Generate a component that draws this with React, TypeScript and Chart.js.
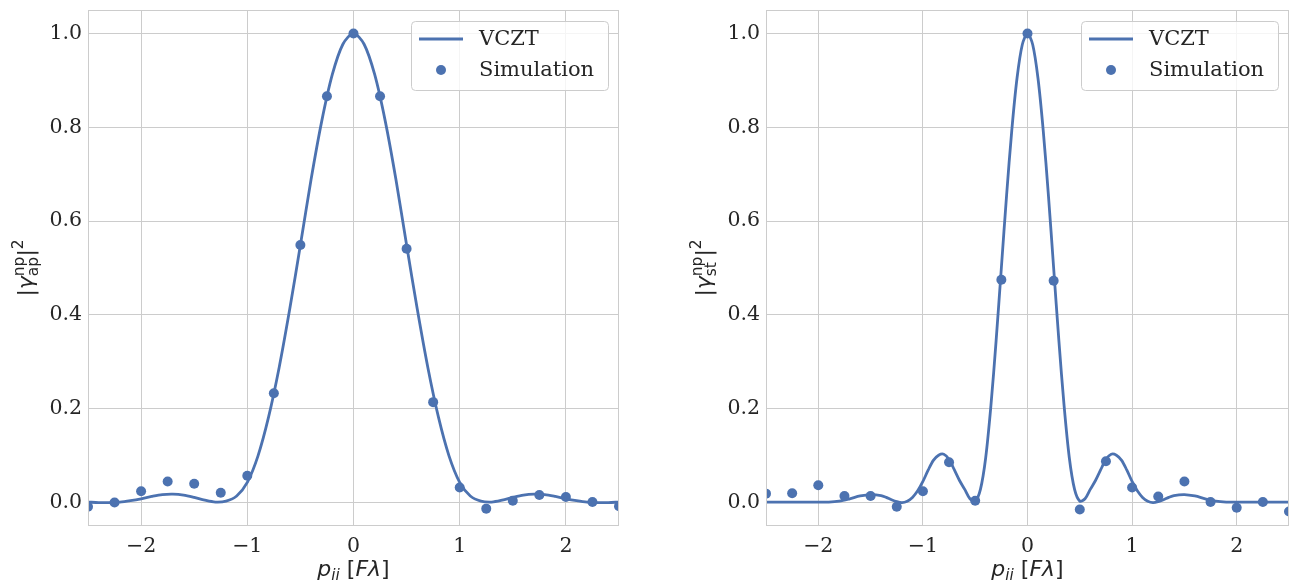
import React, { useEffect, useRef } from 'react';
import { Chart, registerables } from 'chart.js';

Chart.register(...registerables);

const BLUE = '#4c72b0';
const GRID = '#cccccc';
const TEXT = '#262626';

// Simulated samples (shared x positions for both panels)
const simX = [-2.5, -2.25, -2, -1.75, -1.5, -1.25, -1, -0.75, -0.5, -0.25, 0, 0.25, 0.5, 0.75, 1, 1.25, 1.5, 1.75, 2, 2.25, 2.5];
const apSim = [-0.009, 0.0, 0.024, 0.045, 0.04, 0.021, 0.057, 0.233, 0.549, 0.866, 1.0, 0.866, 0.541, 0.214, 0.032, -0.013, 0.004, 0.016, 0.012, 0.001, -0.008];
const stSim = [0.019, 0.02, 0.037, 0.014, 0.014, -0.009, 0.024, 0.086, 0.004, 0.475, 1.0, 0.473, -0.015, 0.088, 0.032, 0.013, 0.045, 0.001, -0.011, 0.001, -0.019];

// VCZT curve, aperture plane
const apCurveX = [
  -2.5, -2.4, -2.3, -2.2, -2.1, -2.0, -1.9, -1.8, -1.7, -1.6, -1.5, -1.4, -1.3, -1.2, -1.1, -1.0, -0.9, -0.8, -0.7, -0.6, -0.5, -0.4, -0.3, -0.2, -0.1,
  0,
  0.1, 0.2, 0.3, 0.4, 0.5, 0.6, 0.7, 0.8, 0.9, 1.0, 1.1, 1.2, 1.3, 1.4, 1.5, 1.6, 1.7, 1.8, 1.9, 2.0, 2.1, 2.2, 2.3, 2.4, 2.5,
];
const apCurve = [
  0.001, 0.0, 0.0, 0.001, 0.004, 0.008, 0.013, 0.017, 0.018, 0.016, 0.011, 0.005, 0.001, 0.003, 0.014, 0.043, 0.099, 0.182, 0.288, 0.413, 0.549, 0.688, 0.812, 0.912, 0.977,
  1.0,
  0.977, 0.912, 0.812, 0.688, 0.549, 0.413, 0.288, 0.182, 0.099, 0.043, 0.014, 0.003, 0.001, 0.005, 0.011, 0.016, 0.018, 0.017, 0.013, 0.008, 0.004, 0.001, 0.0, 0.0, 0.001,
];

// VCZT curve, stop plane
const stCurveX = [
  -2.5, -2.4, -2.3, -2.2, -2.1, -2.0, -1.9, -1.8, -1.7, -1.6, -1.5,
  -1.4, -1.35, -1.3, -1.25, -1.2, -1.15, -1.1, -1.05, -1.0, -0.95, -0.9, -0.85, -0.8, -0.75, -0.7, -0.65, -0.6, -0.55, -0.5, -0.45, -0.4, -0.35, -0.3, -0.25, -0.2, -0.15, -0.1, -0.05,
  0,
  0.05, 0.1, 0.15, 0.2, 0.25, 0.3, 0.35, 0.4, 0.45, 0.5, 0.55, 0.6, 0.65, 0.7, 0.75, 0.8, 0.85, 0.9, 0.95, 1.0, 1.05, 1.1, 1.15, 1.2, 1.25, 1.3, 1.35, 1.4,
  1.5, 1.6, 1.7, 1.8, 1.9, 2.0, 2.1, 2.2, 2.3, 2.4, 2.5,
];
const stCurve = [
  0.001, 0.001, 0.001, 0.001, 0.001, 0.001, 0.001, 0.003, 0.008, 0.014, 0.017,
  0.015, 0.011, 0.006, 0.002, 0.0, 0.003, 0.011, 0.025, 0.045, 0.069, 0.09, 0.101, 0.103, 0.092, 0.07, 0.047, 0.028, 0.008, 0.003, 0.028, 0.095, 0.206, 0.345, 0.5, 0.655, 0.794, 0.905, 0.976,
  1.0,
  0.976, 0.905, 0.794, 0.655, 0.5, 0.345, 0.206, 0.095, 0.028, 0.003, 0.008, 0.028, 0.047, 0.07, 0.092, 0.103, 0.101, 0.09, 0.069, 0.045, 0.025, 0.011, 0.003, 0.0, 0.002, 0.006, 0.011, 0.015,
  0.017, 0.014, 0.008, 0.003, 0.001, 0.001, 0.001, 0.001, 0.001, 0.001, 0.001,
];

const xTicks = [-2, -1, 0, 1, 2];
const xTickLabels = ['\u22122', '\u22121', '0', '1', '2'];
const yTicks = [0, 0.2, 0.4, 0.6, 0.8, 1.0];
const yTickLabels = ['0.0', '0.2', '0.4', '0.6', '0.8', '1.0'];
const seriesNames = ['VCZT', 'Simulation'];

const X_MIN = -2.5;
const X_MAX = 2.5;
const Y_MIN = -0.05;
const Y_MAX = 1.05;

const H = 580;
const LINE_W = 2.8;
const POINT_R = 5;

type Run = { t: string; font: string; dy?: number };
type Piece = Run | { stack: [Run, Run] };

const MATH = 'DejaVu Sans';
const big = (style = '') => `${style} 22px ${MATH}`.trim();
const small = (style = '') => `${style} 15.4px ${MATH}`.trim();

function pieceWidth(ctx: CanvasRenderingContext2D, p: Piece) {
  if ('stack' in p) {
    return Math.max(...p.stack.map((r) => { ctx.font = r.font; return ctx.measureText(r.t).width; }));
  }
  ctx.font = p.font;
  return ctx.measureText(p.t).width;
}

// draws a row of text pieces centred on (0, 0) baseline in the current transform
function drawPieces(ctx: CanvasRenderingContext2D, pieces: Piece[]) {
  const widths = pieces.map((p) => pieceWidth(ctx, p));
  const total = widths.reduce((a, b) => a + b, 0);
  let x = -total / 2;
  ctx.textBaseline = 'alphabetic';
  ctx.textAlign = 'left';
  ctx.fillStyle = TEXT;
  pieces.forEach((p, i) => {
    const runs = 'stack' in p ? p.stack : [p];
    runs.forEach((r) => {
      ctx.font = r.font;
      ctx.fillText(r.t, x, r.dy ?? 0);
    });
    x += widths[i];
  });
}

function yLabel(sub: string): Piece[] {
  return [
    { t: '|', font: big() },
    { t: '\u03b3', font: big('italic') },
    { stack: [{ t: 'np', font: small(), dy: -9 }, { t: sub, font: small(), dy: 5 }] },
    { t: '|', font: big() },
    { t: '2', font: small(), dy: -10 },
  ];
}

const xLabel: Piece[] = [
  { t: 'p', font: big('italic') },
  { t: 'ii', font: small('italic'), dy: 4 },
  { t: ' [', font: big() },
  { t: 'F', font: big('italic') },
  { t: '\u03bb', font: big('italic') },
  { t: ']', font: big() },
];

function decorations(label: Piece[]) {
  return {
    id: 'decorations',
    afterDraw(chart: Chart) {
      const { ctx, chartArea: a } = chart;
      ctx.save();
      // frame
      ctx.strokeStyle = GRID;
      ctx.lineWidth = 1;
      ctx.strokeRect(a.left + 0.5, a.top + 0.5, a.right - a.left - 1, a.bottom - a.top - 1);

      // legend
      const lw = 197;
      const lh = 69;
      const lx = a.right - 11 - lw;
      const ly = a.top + 11;
      ctx.beginPath();
      ctx.roundRect(lx + 0.5, ly + 0.5, lw, lh, 4);
      ctx.fillStyle = 'rgba(255,255,255,0.8)';
      ctx.fill();
      ctx.strokeStyle = GRID;
      ctx.lineWidth = 1;
      ctx.stroke();

      ctx.beginPath();
      ctx.moveTo(lx + 8, ly + 18);
      ctx.lineTo(lx + 52, ly + 18);
      ctx.strokeStyle = BLUE;
      ctx.lineWidth = LINE_W;
      ctx.stroke();

      ctx.beginPath();
      ctx.arc(lx + 30, ly + 49, POINT_R, 0, Math.PI * 2);
      ctx.fillStyle = BLUE;
      ctx.fill();

      ctx.fillStyle = TEXT;
      ctx.font = '21px DejaVu Serif';
      ctx.textAlign = 'left';
      ctx.textBaseline = 'middle';
      ctx.fillText(seriesNames[0], lx + 68, ly + 19);
      ctx.fillText(seriesNames[1], lx + 68, ly + 50);

      // axis titles
      ctx.save();
      ctx.translate((a.left + a.right) / 2, 576);
      drawPieces(ctx, xLabel);
      ctx.restore();

      ctx.save();
      ctx.translate(a.left - 55, (a.top + a.bottom) / 2);
      ctx.rotate(-Math.PI / 2);
      drawPieces(ctx, label);
      ctx.restore();

      ctx.restore();
    },
  };
}

type PanelProps = {
  left: number;
  width: number;
  axisWidth: number;
  padRight: number;
  sim: number[];
  curveX: number[];
  curveY: number[];
  sub: string;
};

function Panel({ left, width, axisWidth, padRight, sim, curveX, curveY, sub }: PanelProps) {
  const ref = useRef<HTMLCanvasElement>(null);

  useEffect(() => {
    const tickFont = { family: 'DejaVu Serif', size: 20.5 };
    const chart = new Chart(ref.current!, {
      type: 'scatter',
      data: {
        datasets: [
          {
            label: seriesNames[1],
            data: simX.map((x, i) => ({ x, y: sim[i] })),
            backgroundColor: BLUE,
            borderWidth: 0,
            pointRadius: POINT_R,
            showLine: false,
            clip: 0,
            order: 1,
          },
          {
            label: seriesNames[0],
            data: curveX.map((x, i) => ({ x, y: curveY[i] })),
            borderColor: BLUE,
            borderWidth: LINE_W,
            pointRadius: 0,
            showLine: true,
            tension: 0.3,
            borderJoinStyle: 'round',
            borderCapStyle: 'round',
            clip: 0,
            order: 2,
          } as any,
        ],
      },
      options: {
        animation: false,
        responsive: false,
        devicePixelRatio: 1,
        events: [],
        layout: { padding: { top: 10, right: padRight, bottom: 0, left: 0 } },
        plugins: { legend: { display: false }, tooltip: { enabled: false } },
        scales: {
          x: {
            type: 'linear',
            min: X_MIN,
            max: X_MAX,
            afterBuildTicks: (s: any) => { s.ticks = xTicks.map((value) => ({ value })); },
            afterFit: (s: any) => {
              s.height = 54;
              s.paddingLeft = 0;
              s.paddingRight = 0;
              s.paddingTop = 0;
              s.paddingBottom = 0;
            },
            grid: { color: GRID, lineWidth: 1, drawTicks: false },
            border: { display: false },
            ticks: {
              padding: 8,
              color: TEXT,
              font: tickFont,
              maxRotation: 0,
              autoSkip: false,
              callback: (v: any) => xTickLabels[xTicks.indexOf(v)],
            },
          },
          y: {
            type: 'linear',
            min: Y_MIN,
            max: Y_MAX,
            afterBuildTicks: (s: any) => { s.ticks = yTicks.map((value) => ({ value })); },
            afterFit: (s: any) => {
              s.width = axisWidth;
              s.paddingLeft = 0;
              s.paddingRight = 0;
              s.paddingTop = 0;
              s.paddingBottom = 0;
            },
            grid: { color: GRID, lineWidth: 1, drawTicks: false },
            border: { display: false },
            ticks: {
              padding: 6,
              color: TEXT,
              font: tickFont,
              autoSkip: false,
              callback: (v: any) => yTickLabels[yTicks.indexOf(v)],
            },
          },
        },
      },
      plugins: [decorations(yLabel(sub))],
    });
    return () => chart.destroy();
  }, []);

  return (
    <canvas
      ref={ref}
      width={width}
      height={H}
      style={{ position: 'absolute', left, top: 0, width, height: H }}
    />
  );
}

export default function App() {
  return (
    <div style={{ position: 'fixed', left: 0, top: 0, width: 1294, height: H, background: '#fff', overflow: 'hidden' }}>
      <Panel left={0} width={640} axisWidth={88} padRight={21} sim={apSim} curveX={apCurveX} curveY={apCurve} sub="ap" />
      <Panel left={640} width={654} axisWidth={126} padRight={2} sim={stSim} curveX={stCurveX} curveY={stCurve} sub="st" />
    </div>
  );
}
